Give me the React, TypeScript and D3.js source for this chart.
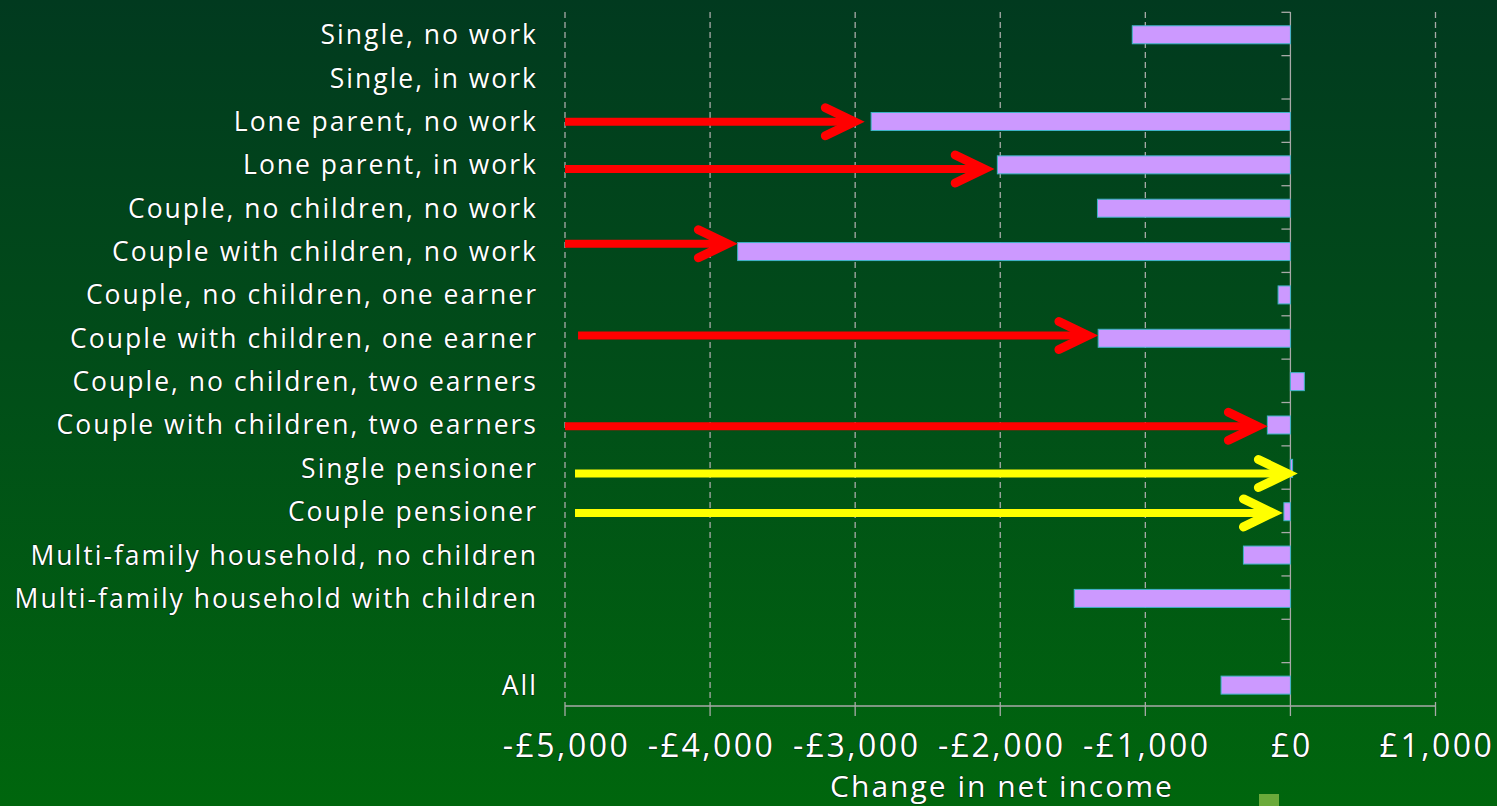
import React from "react";
import * as d3 from "d3";

const categories = [
  "Single, no work",
  "Single, in work",
  "Lone parent, no work",
  "Lone parent, in work",
  "Couple, no children, no work",
  "Couple with children, no work",
  "Couple, no children, one earner",
  "Couple with children, one earner",
  "Couple, no children, two earners",
  "Couple with children, two earners",
  "Single pensioner",
  "Couple pensioner",
  "Multi-family household, no children",
  "Multi-family household with children",
  "",
  "All",
];

const values = [
  -1090, 0, -2890, -2020, -1330, -3810, -85, -1325, 96, -159, 15, -45, -324, -1490, 0, -478,
];

const xTicks = [-5000, -4000, -3000, -2000, -1000, 0, 1000];

// annotation arrows: category, start value, tip value, vertical offset, colour
const arrowCats = [
  "Lone parent, no work",
  "Lone parent, in work",
  "Couple with children, no work",
  "Couple with children, one earner",
  "Couple with children, two earners",
  "Single pensioner",
  "Couple pensioner",
];
const arrowFrom = [-5000, -5000, -5000, -4910, -5000, -4931, -4931];
const arrowTo = [-2985, -2090, -3860, -1375, -207, 0, -103];
const arrowDy = [1, 5, -7, -2, 2, 6, 2];
const arrowColors = ["#ff0000", "#ff0000", "#ff0000", "#ff0000", "#ff0000", "#ffff00", "#ffff00"];

const W = 1497;
const H = 806;

export default function App() {
  const x = d3.scaleLinear().domain([-5000, 1000]).range([565, 1435.5]);
  const keys = categories.map((c, i) => c || `blank${i}`);
  const y = d3
    .scaleBand<string>()
    .domain(keys)
    .range([12.3, 706])
    .paddingInner(0)
    .paddingOuter(0);
  const bw = y.bandwidth();
  const barH = 18;
  const fmt = (v: number) => (v < 0 ? "-" : "") + "£" + d3.format(",")(Math.abs(v));
  const axisColor = "#a8aaa8";
  const font = "'Open Sans', 'Noto Sans', sans-serif";

  return (
    <svg
      width={W}
      height={H}
      style={{ position: "absolute", left: 0, top: 0, display: "block" }}
      fontFamily={font}
    >
      <defs>
        <linearGradient id="bg" x1="0" y1="0" x2="0" y2="1">
          <stop offset="0" stopColor="#013a1f" />
          <stop offset="0.5" stopColor="#014f18" />
          <stop offset="1" stopColor="#00660d" />
        </linearGradient>
      </defs>
      <rect x={0} y={0} width={W} height={H} fill="url(#bg)" />

      {/* gridlines */}
      {xTicks.map((t) => (
        <line
          key={"g" + t}
          x1={x(t)}
          x2={x(t)}
          y1={12}
          y2={706}
          stroke={axisColor}
          strokeWidth={1.3}
          strokeDasharray={t === 0 ? undefined : "6,4"}
        />
      ))}

      {/* zero-axis category ticks */}
      {keys.map((k, i) => (
        <line
          key={"ct" + i}
          x1={x(0) - 9}
          x2={x(0)}
          y1={y(k) as number}
          y2={y(k) as number}
          stroke={axisColor}
          strokeWidth={1.3}
        />
      ))}

      {/* bottom axis */}
      <line x1={x(-5000)} x2={x(1000)} y1={706} y2={706} stroke={axisColor} strokeWidth={1.3} />
      {xTicks.map((t) => (
        <line key={"bt" + t} x1={x(t)} x2={x(t)} y1={706} y2={716} stroke={axisColor} strokeWidth={1.3} />
      ))}

      {/* bars */}
      {keys.map((k, i) => {
        const v = values[i];
        if (!categories[i] || v === 0) return null;
        const cy = (y(k) as number) + bw / 2 + 0.8;
        const x0 = Math.min(x(0), x(v));
        const w = Math.abs(x(v) - x(0));
        return (
          <rect
            key={"b" + i}
            x={x0}
            y={cy - barH / 2}
            width={w}
            height={barH}
            fill="#cc99ff"
            stroke="#3fb3c8"
            strokeWidth={1}
          />
        );
      })}

      {/* category labels */}
      {keys.map((k, i) =>
        categories[i] ? (
          <text
            key={"l" + i}
            x={538}
            y={(y(k) as number) + bw / 2 + 1}
            dy="0.35em"
            textAnchor="end"
            fontSize={26.5}
            letterSpacing={2}
            fill="#ffffff"
            stroke="#062a12"
            strokeWidth={1.2}
            paintOrder="stroke"
          >
            {categories[i]}
          </text>
        ) : null
      )}

      {/* x tick labels */}
      {xTicks.map((t) => (
        <text
          key={"xl" + t}
          x={x(t) + 1.5}
          y={757}
          textAnchor="middle"
          fontSize={32}
          letterSpacing={2.5}
          fill="#ffffff"
          stroke="#062a12"
          strokeWidth={1.2}
          paintOrder="stroke"
        >
          {fmt(t)}
        </text>
      ))}
      <text
        x={1002}
        y={797}
        textAnchor="middle"
        fontSize={30}
        letterSpacing={2}
        fill="#ffffff"
        stroke="#062a12"
        strokeWidth={1.2}
        paintOrder="stroke"
      >
        Change in net income
      </text>

      {/* small legend square */}
      <rect x={1259} y={794} width={20} height={14} fill="#6aaa3a" />

      {/* annotation arrows */}
      {arrowCats.map((c, i) => {
        const cy = (y(c) as number) + bw / 2 + arrowDy[i];
        const xs = x(arrowFrom[i]);
        const xt = x(arrowTo[i]) - 3;
        const col = arrowColors[i];
        const path = d3.path();
        path.moveTo(xt - 29, cy - 14);
        path.lineTo(xt, cy);
        path.lineTo(xt - 29, cy + 14);
        return (
          <g key={"a" + i}>
            <line x1={xs} x2={xt - 4} y1={cy} y2={cy} stroke={col} strokeWidth={8} />
            <path
              d={path.toString()}
              fill="none"
              stroke={col}
              strokeWidth={9}
              strokeLinecap="round"
              strokeLinejoin="miter"
            />
          </g>
        );
      })}
    </svg>
  );
}
